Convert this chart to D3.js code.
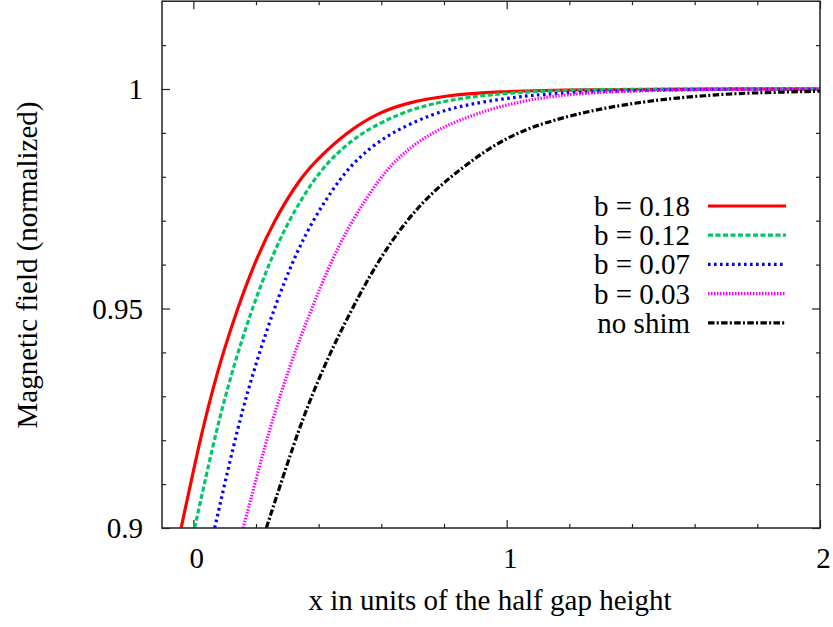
<!DOCTYPE html>
<html>
<head>
<meta charset="utf-8">
<script src="https://cdn.jsdelivr.net/npm/d3@7"></script>
<style>
  html, body { margin: 0; padding: 0; background: #fff; }
  svg text { font-family: "Liberation Serif", "Times New Roman", serif; fill: #000; }
</style>
</head>
<body>
<svg id="chart" width="833" height="627"></svg>
<script>
// ---- data ----
const seriesNames = ["b = 0.18", "b = 0.12", "b = 0.07", "b = 0.03", "no shim"];
const seriesColors = ["#ff0000", "#00c864", "#0000ff", "#ff00ff", "#000000"];
const seriesDash = [null, "5,2.5", "2.6,3.4", "1.5,1.5", "6.5,2.2,2,2.4"];

const xTickLabels = ["0", "1", "2"];
const yTickLabels = ["0.9", "0.95", "1"];

const b018 = [
  [-0.039, 0.900], [0.021, 0.920], [0.056, 0.930], [0.095, 0.940], [0.141, 0.950],
  [0.193, 0.960], [0.257, 0.970], [0.343, 0.980], [0.410, 0.985], [0.488, 0.990],
  [0.585, 0.9945], [0.690, 0.9970], [0.805, 0.9985], [0.960, 0.9994], [1.250, 0.9999],
  [1.600, 1.0000], [2.000, 1.0000]
];
const b012 = [
  [0.004, 0.900], [0.066, 0.920], [0.102, 0.930], [0.142, 0.940], [0.188, 0.950],
  [0.240, 0.960], [0.303, 0.970], [0.389, 0.980], [0.452, 0.985], [0.534, 0.990],
  [0.659, 0.9945], [0.763, 0.9967], [0.879, 0.9982], [1.020, 0.9992], [1.200, 0.9998],
  [1.500, 1.0000], [2.000, 1.0000]
];
const b007 = [
  [0.068, 0.900], [0.132, 0.920], [0.169, 0.930], [0.211, 0.940], [0.258, 0.950],
  [0.312, 0.960], [0.379, 0.970], [0.471, 0.980], [0.536, 0.985], [0.628, 0.990],
  [0.767, 0.9945], [0.875, 0.9965], [1.008, 0.9980], [1.150, 0.9991], [1.420, 0.9997],
  [1.700, 1.0000], [2.000, 1.0000]
];
const b003 = [
  [0.159, 0.900], [0.233, 0.920], [0.276, 0.930], [0.323, 0.940], [0.378, 0.950],
  [0.435, 0.960], [0.505, 0.970], [0.597, 0.980], [0.669, 0.9855], [0.759, 0.990],
  [0.850, 0.9930], [0.971, 0.9960], [1.105, 0.9980], [1.220, 0.9989], [1.360, 0.9995],
  [1.600, 0.9999], [2.000, 1.0000]
];
const noShim = [
  [0.233, 0.900], [0.324, 0.920], [0.377, 0.930], [0.437, 0.940], [0.507, 0.950],
  [0.582, 0.960], [0.678, 0.970], [0.770, 0.977], [0.869, 0.9827], [0.975, 0.9880],
  [1.080, 0.9914], [1.190, 0.9937], [1.300, 0.9955], [1.410, 0.9968], [1.520, 0.9978],
  [1.630, 0.9985], [1.740, 0.9990], [1.850, 0.99925], [2.000, 0.9995]
];
const seriesData = [b018, b012, b007, b003, noShim];

// ---- layout ----
const svg = d3.select("#chart");
const L = 162, R = 820, T = 1.2, B = 528;
const x = d3.scaleLinear().domain([-0.1, 2]).range([L, R]);
const y = d3.scaleLinear().domain([0.9, 1.02]).range([B, T]);
const FS = 29;

const xMajor = xTickLabels.map(Number);
const yMajor = yTickLabels.map(Number);
const xMinor = d3.range(0, 11).map(i => +(i * 0.2).toFixed(2)).filter(v => !xMajor.includes(v));
const yMinor = d3.range(0, 13).map(i => +(0.9 + i * 0.01).toFixed(2)).filter(v => !yMajor.includes(v) && v < 1.02);

function styleAxis(g) {
  g.select(".domain").remove();
  g.selectAll(".tick line").attr("stroke", "#222").attr("stroke-width", 1.2);
}

// bottom axis
svg.append("g").attr("transform", `translate(0,${B})`)
  .call(d3.axisBottom(x).tickValues(xMajor).tickSize(-8).tickFormat((d, i) => xTickLabels[i]))
  .call(styleAxis)
  .call(g => g.selectAll(".tick text").attr("y", 40).attr("dy", 0).attr("dx", 3)
    .style("font-size", FS + "px").style("font-family", "Liberation Serif"));
svg.append("g").attr("transform", `translate(0,${B})`)
  .call(d3.axisBottom(x).tickValues(xMinor).tickSize(-4).tickFormat(""))
  .call(styleAxis);
// top axis
svg.append("g").attr("transform", `translate(0,${T})`)
  .call(d3.axisTop(x).tickValues(xMajor).tickSize(-8).tickFormat(""))
  .call(styleAxis);
svg.append("g").attr("transform", `translate(0,${T})`)
  .call(d3.axisTop(x).tickValues(xMinor).tickSize(-4).tickFormat(""))
  .call(styleAxis);
// left axis
svg.append("g").attr("transform", `translate(${L},0)`)
  .call(d3.axisLeft(y).tickValues(yMajor).tickSize(-8).tickPadding(19).tickFormat((d, i) => yTickLabels[i]))
  .call(styleAxis)
  .call(g => g.selectAll(".tick text").attr("dy", "0.34em")
    .style("font-size", FS + "px").style("font-family", "Liberation Serif"));
svg.append("g").attr("transform", `translate(${L},0)`)
  .call(d3.axisLeft(y).tickValues(yMinor).tickSize(-4).tickFormat(""))
  .call(styleAxis);
// right axis
svg.append("g").attr("transform", `translate(${R},0)`)
  .call(d3.axisRight(y).tickValues(yMajor).tickSize(-8).tickFormat(""))
  .call(styleAxis);
svg.append("g").attr("transform", `translate(${R},0)`)
  .call(d3.axisRight(y).tickValues(yMinor).tickSize(-4).tickFormat(""))
  .call(styleAxis);

// clip
svg.append("clipPath").attr("id", "plotclip")
  .append("rect").attr("x", L).attr("y", T).attr("width", R - L).attr("height", B - T);

// curves
const line = d3.line().x(d => x(d[0])).y(d => y(d[1])).curve(d3.curveBasis);
const plot = svg.append("g").attr("clip-path", "url(#plotclip)");
seriesData.forEach((data, i) => {
  plot.append("path")
    .datum(data)
    .attr("fill", "none")
    .attr("stroke", seriesColors[i])
    .attr("stroke-width", 3.2)
    .attr("stroke-dasharray", seriesDash[i])
    .attr("d", line);
});

// frame
svg.append("rect").attr("x", L).attr("y", T).attr("width", R - L).attr("height", B - T)
  .attr("fill", "none").attr("stroke", "#222").attr("stroke-width", 1.5);

// legend
const legend = svg.append("g");
seriesNames.forEach((name, i) => {
  const cy = 206 + i * 29.2;
  legend.append("text").attr("x", 690).attr("y", cy + 10).attr("text-anchor", "end")
    .style("font-size", FS + "px").text(name);
  legend.append("line").attr("x1", 708).attr("x2", 786).attr("y1", cy).attr("y2", cy)
    .attr("stroke", seriesColors[i]).attr("stroke-width", 3.2)
    .attr("stroke-dasharray", seriesDash[i]);
});

// axis titles
svg.append("text").attr("x", 490).attr("y", 610).attr("text-anchor", "middle")
  .style("font-size", FS + "px").text("x in units of the half gap height");
svg.append("text").attr("transform", "translate(37,265) rotate(-90)").attr("text-anchor", "middle")
  .style("font-size", FS + "px").text("Magnetic field (normalized)");
</script>
</body>
</html>
